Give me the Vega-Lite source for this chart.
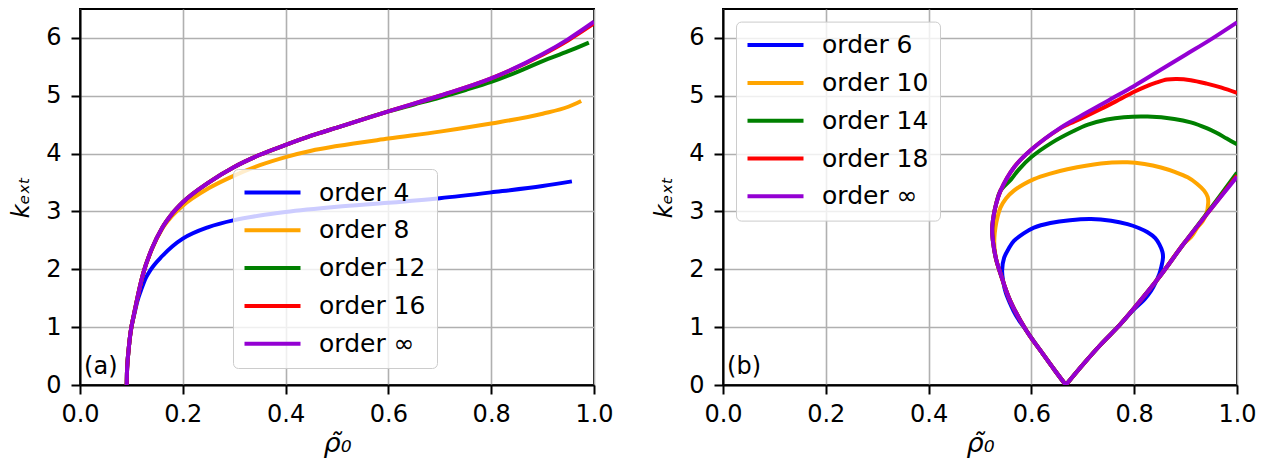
{
  "$schema": "https://vega.github.io/schema/vega-lite/v6.json",
  "padding": {"left": 8, "top": 8, "right": 5, "bottom": 5},
  "background": "white",
  "config": {
    "font": "DejaVu Sans",
    "view": {"stroke": "black", "strokeWidth": 2},
    "axis": {
      "grid": true, "gridColor": "#b0b0b0", "gridWidth": 1.6, "gridOpacity": 1,
      "domainColor": "black", "domainWidth": 2,
      "tickColor": "black", "tickWidth": 2, "tickSize": 9,
      "labelFont": "DejaVu Sans", "labelFontSize": 24, "labelColor": "black", "labelPadding": 8,
      "labelFlush": false, "labelOverlap": false,
      "titleFont": "DejaVu Sans", "titleFontSize": 24, "titleFontWeight": "normal", "titleColor": "black", "titleFontStyle": "italic"
    },
    "axisY": {"labelPadding": 10, "titlePadding": 12},
    "axisX": {"titlePadding": 4, "titleFontSize": 27},
    "legend": {
      "title": null, "orient": "none",
      "symbolType": "M-2.8,0L2.8,0", "symbolSize": 400, "symbolStrokeWidth": 4, "symbolOffset": 16,
      "labelFont": "DejaVu Sans", "labelFontSize": 25, "labelColor": "black", "labelOffset": 34,
      "rowPadding": 11.8, "padding": 11,
      "fillColor": "rgba(255,255,255,0.8)", "strokeColor": "#cccccc", "cornerRadius": 5
    }
  },
  "spacing": 129,
  "bounds": "flush",
  "resolve": {"scale": {"color": "independent"}},
  "datasets": {
    "a": [
      {"s":"order 4","i":0,"r":0.0909,"k":0},{"s":"order 4","i":1,"r":0.0913,"k":0.2},{"s":"order 4","i":2,"r":0.0925,"k":0.4},{"s":"order 4","i":3,"r":0.0945,"k":0.6},{"s":"order 4","i":4,"r":0.0975,"k":0.85},{"s":"order 4","i":5,"r":0.1,"k":1.0},{"s":"order 4","i":6,"r":0.105,"k":1.2},{"s":"order 4","i":7,"r":0.112,"k":1.46},{"s":"order 4","i":8,"r":0.12,"k":1.67},{"s":"order 4","i":9,"r":0.128,"k":1.85},{"s":"order 4","i":10,"r":0.138,"k":2.0},{"s":"order 4","i":11,"r":0.16,"k":2.23},{"s":"order 4","i":12,"r":0.18,"k":2.4},{"s":"order 4","i":13,"r":0.2,"k":2.53},{"s":"order 4","i":14,"r":0.25,"k":2.73},{"s":"order 4","i":15,"r":0.3,"k":2.85},{"s":"order 4","i":16,"r":0.35,"k":2.93},{"s":"order 4","i":17,"r":0.4,"k":2.99},{"s":"order 4","i":18,"r":0.5,"k":3.08},{"s":"order 4","i":19,"r":0.6,"k":3.15},{"s":"order 4","i":20,"r":0.7,"k":3.23},{"s":"order 4","i":21,"r":0.8,"k":3.33},{"s":"order 4","i":22,"r":0.9,"k":3.44},{"s":"order 4","i":23,"r":0.957,"k":3.52},
      {"s":"order 8","i":0,"r":0.0909,"k":0},{"s":"order 8","i":1,"r":0.0913,"k":0.2},{"s":"order 8","i":2,"r":0.0925,"k":0.4},{"s":"order 8","i":3,"r":0.0945,"k":0.6},{"s":"order 8","i":4,"r":0.0975,"k":0.85},{"s":"order 8","i":5,"r":0.1,"k":1.0},{"s":"order 8","i":6,"r":0.105,"k":1.22},{"s":"order 8","i":7,"r":0.112,"k":1.52},{"s":"order 8","i":8,"r":0.123,"k":1.93},{"s":"order 8","i":9,"r":0.14,"k":2.35},{"s":"order 8","i":10,"r":0.16,"k":2.7},{"s":"order 8","i":11,"r":0.18,"k":2.93},{"s":"order 8","i":12,"r":0.2,"k":3.1},{"s":"order 8","i":13,"r":0.25,"k":3.4},{"s":"order 8","i":14,"r":0.3,"k":3.62},{"s":"order 8","i":15,"r":0.35,"k":3.8},{"s":"order 8","i":16,"r":0.4,"k":3.94},{"s":"order 8","i":17,"r":0.45,"k":4.05},{"s":"order 8","i":18,"r":0.5,"k":4.13},{"s":"order 8","i":19,"r":0.6,"k":4.26},{"s":"order 8","i":20,"r":0.7,"k":4.38},{"s":"order 8","i":21,"r":0.8,"k":4.52},{"s":"order 8","i":22,"r":0.9,"k":4.69},{"s":"order 8","i":23,"r":0.95,"k":4.81},{"s":"order 8","i":24,"r":0.975,"k":4.91},
      {"s":"order 12","i":0,"r":0.0909,"k":0},{"s":"order 12","i":1,"r":0.0913,"k":0.2},{"s":"order 12","i":2,"r":0.0925,"k":0.4},{"s":"order 12","i":3,"r":0.0945,"k":0.6},{"s":"order 12","i":4,"r":0.0975,"k":0.85},{"s":"order 12","i":5,"r":0.1,"k":1.0},{"s":"order 12","i":6,"r":0.105,"k":1.22},{"s":"order 12","i":7,"r":0.112,"k":1.52},{"s":"order 12","i":8,"r":0.123,"k":1.93},{"s":"order 12","i":9,"r":0.14,"k":2.36},{"s":"order 12","i":10,"r":0.16,"k":2.72},{"s":"order 12","i":11,"r":0.18,"k":2.97},{"s":"order 12","i":12,"r":0.2,"k":3.16},{"s":"order 12","i":13,"r":0.25,"k":3.5},{"s":"order 12","i":14,"r":0.3,"k":3.77},{"s":"order 12","i":15,"r":0.35,"k":3.98},{"s":"order 12","i":16,"r":0.4,"k":4.15},{"s":"order 12","i":17,"r":0.45,"k":4.31},{"s":"order 12","i":18,"r":0.5,"k":4.45},{"s":"order 12","i":19,"r":0.6,"k":4.73},{"s":"order 12","i":20,"r":0.65,"k":4.85},{"s":"order 12","i":21,"r":0.7,"k":4.97},{"s":"order 12","i":22,"r":0.75,"k":5.1},{"s":"order 12","i":23,"r":0.8,"k":5.24},{"s":"order 12","i":24,"r":0.85,"k":5.41},{"s":"order 12","i":25,"r":0.9,"k":5.6},{"s":"order 12","i":26,"r":0.95,"k":5.77},{"s":"order 12","i":27,"r":0.99,"k":5.92},
      {"s":"order 16","i":0,"r":0.0909,"k":0},{"s":"order 16","i":1,"r":0.0913,"k":0.2},{"s":"order 16","i":2,"r":0.0925,"k":0.4},{"s":"order 16","i":3,"r":0.0945,"k":0.6},{"s":"order 16","i":4,"r":0.0975,"k":0.85},{"s":"order 16","i":5,"r":0.1,"k":1.0},{"s":"order 16","i":6,"r":0.105,"k":1.22},{"s":"order 16","i":7,"r":0.112,"k":1.52},{"s":"order 16","i":8,"r":0.123,"k":1.93},{"s":"order 16","i":9,"r":0.14,"k":2.36},{"s":"order 16","i":10,"r":0.16,"k":2.72},{"s":"order 16","i":11,"r":0.18,"k":2.97},{"s":"order 16","i":12,"r":0.2,"k":3.16},{"s":"order 16","i":13,"r":0.25,"k":3.5},{"s":"order 16","i":14,"r":0.3,"k":3.77},{"s":"order 16","i":15,"r":0.35,"k":3.98},{"s":"order 16","i":16,"r":0.4,"k":4.15},{"s":"order 16","i":17,"r":0.45,"k":4.31},{"s":"order 16","i":18,"r":0.5,"k":4.45},{"s":"order 16","i":19,"r":0.6,"k":4.73},{"s":"order 16","i":20,"r":0.7,"k":5.0},{"s":"order 16","i":21,"r":0.8,"k":5.3},{"s":"order 16","i":22,"r":0.9,"k":5.71},{"s":"order 16","i":23,"r":0.95,"k":5.96},{"s":"order 16","i":24,"r":1.0,"k":6.25},
      {"s":"order ∞","i":0,"r":0.0909,"k":0},{"s":"order ∞","i":1,"r":0.0913,"k":0.2},{"s":"order ∞","i":2,"r":0.0925,"k":0.4},{"s":"order ∞","i":3,"r":0.0945,"k":0.6},{"s":"order ∞","i":4,"r":0.0975,"k":0.85},{"s":"order ∞","i":5,"r":0.1,"k":1.0},{"s":"order ∞","i":6,"r":0.105,"k":1.22},{"s":"order ∞","i":7,"r":0.112,"k":1.52},{"s":"order ∞","i":8,"r":0.123,"k":1.93},{"s":"order ∞","i":9,"r":0.14,"k":2.36},{"s":"order ∞","i":10,"r":0.16,"k":2.72},{"s":"order ∞","i":11,"r":0.18,"k":2.97},{"s":"order ∞","i":12,"r":0.2,"k":3.16},{"s":"order ∞","i":13,"r":0.25,"k":3.5},{"s":"order ∞","i":14,"r":0.3,"k":3.77},{"s":"order ∞","i":15,"r":0.35,"k":3.98},{"s":"order ∞","i":16,"r":0.4,"k":4.15},{"s":"order ∞","i":17,"r":0.45,"k":4.31},{"s":"order ∞","i":18,"r":0.5,"k":4.45},{"s":"order ∞","i":19,"r":0.6,"k":4.73},{"s":"order ∞","i":20,"r":0.7,"k":5.0},{"s":"order ∞","i":21,"r":0.8,"k":5.3},{"s":"order ∞","i":22,"r":0.9,"k":5.72},{"s":"order ∞","i":23,"r":0.95,"k":5.98},{"s":"order ∞","i":24,"r":1.0,"k":6.28}
    ],
    "b": [
      {"s":"order 6","g":0,"i":0,"r":0.667,"k":0},{"s":"order 6","g":0,"i":1,"r":0.645,"k":0.26},{"s":"order 6","g":0,"i":2,"r":0.623,"k":0.53},{"s":"order 6","g":0,"i":3,"r":0.591,"k":0.93},{"s":"order 6","g":0,"i":4,"r":0.57,"k":1.2},{"s":"order 6","g":0,"i":5,"r":0.559,"k":1.4},{"s":"order 6","g":0,"i":6,"r":0.55,"k":1.6},{"s":"order 6","g":0,"i":7,"r":0.545,"k":1.8},{"s":"order 6","g":0,"i":8,"r":0.543,"k":1.98},{"s":"order 6","g":0,"i":9,"r":0.547,"k":2.2},{"s":"order 6","g":0,"i":10,"r":0.556,"k":2.36},{"s":"order 6","g":0,"i":11,"r":0.566,"k":2.49},{"s":"order 6","g":0,"i":12,"r":0.585,"k":2.62},{"s":"order 6","g":0,"i":13,"r":0.605,"k":2.72},{"s":"order 6","g":0,"i":14,"r":0.637,"k":2.8},{"s":"order 6","g":0,"i":15,"r":0.675,"k":2.85},{"s":"order 6","g":0,"i":16,"r":0.716,"k":2.87},{"s":"order 6","g":0,"i":17,"r":0.755,"k":2.84},{"s":"order 6","g":0,"i":18,"r":0.787,"k":2.78},{"s":"order 6","g":0,"i":19,"r":0.81,"k":2.71},{"s":"order 6","g":0,"i":20,"r":0.826,"k":2.64},{"s":"order 6","g":0,"i":21,"r":0.841,"k":2.54},{"s":"order 6","g":0,"i":22,"r":0.849,"k":2.43},{"s":"order 6","g":0,"i":23,"r":0.855,"k":2.3},{"s":"order 6","g":0,"i":24,"r":0.856,"k":2.2},{"s":"order 6","g":0,"i":25,"r":0.853,"k":2.05},{"s":"order 6","g":0,"i":26,"r":0.849,"k":1.92},{"s":"order 6","g":0,"i":27,"r":0.842,"k":1.78},{"s":"order 6","g":0,"i":28,"r":0.833,"k":1.63},{"s":"order 6","g":0,"i":29,"r":0.82,"k":1.48},{"s":"order 6","g":0,"i":30,"r":0.8,"k":1.31},{"s":"order 6","g":0,"i":31,"r":0.77,"k":1.02},{"s":"order 6","g":0,"i":32,"r":0.735,"k":0.7},{"s":"order 6","g":0,"i":33,"r":0.7,"k":0.35},{"s":"order 6","g":0,"i":34,"r":0.667,"k":0},
      {"s":"order 10","g":0,"i":0,"r":0.667,"k":0},{"s":"order 10","g":0,"i":1,"r":0.645,"k":0.26},{"s":"order 10","g":0,"i":2,"r":0.623,"k":0.53},{"s":"order 10","g":0,"i":3,"r":0.591,"k":0.93},{"s":"order 10","g":0,"i":4,"r":0.559,"k":1.45},{"s":"order 10","g":0,"i":5,"r":0.54,"k":1.92},{"s":"order 10","g":0,"i":6,"r":0.532,"k":2.15},{"s":"order 10","g":0,"i":7,"r":0.528,"k":2.4},{"s":"order 10","g":0,"i":8,"r":0.528,"k":2.55},{"s":"order 10","g":0,"i":9,"r":0.53,"k":2.72},{"s":"order 10","g":0,"i":10,"r":0.534,"k":2.9},{"s":"order 10","g":0,"i":11,"r":0.54,"k":3.07},{"s":"order 10","g":0,"i":12,"r":0.551,"k":3.23},{"s":"order 10","g":0,"i":13,"r":0.566,"k":3.36},{"s":"order 10","g":0,"i":14,"r":0.585,"k":3.47},{"s":"order 10","g":0,"i":15,"r":0.605,"k":3.56},{"s":"order 10","g":0,"i":16,"r":0.635,"k":3.65},{"s":"order 10","g":0,"i":17,"r":0.67,"k":3.73},{"s":"order 10","g":0,"i":18,"r":0.735,"k":3.83},{"s":"order 10","g":0,"i":19,"r":0.787,"k":3.85},{"s":"order 10","g":0,"i":20,"r":0.82,"k":3.82},{"s":"order 10","g":0,"i":21,"r":0.852,"k":3.76},{"s":"order 10","g":0,"i":22,"r":0.88,"k":3.68},{"s":"order 10","g":0,"i":23,"r":0.904,"k":3.59},{"s":"order 10","g":0,"i":24,"r":0.922,"k":3.48},{"s":"order 10","g":0,"i":25,"r":0.936,"k":3.36},{"s":"order 10","g":0,"i":26,"r":0.943,"k":3.25},{"s":"order 10","g":0,"i":27,"r":0.944,"k":3.15},{"s":"order 10","g":0,"i":28,"r":0.94,"k":2.95},{"s":"order 10","g":0,"i":29,"r":0.933,"k":2.83},{"s":"order 10","g":0,"i":30,"r":0.923,"k":2.72},{"s":"order 10","g":0,"i":31,"r":0.91,"k":2.55},{"s":"order 10","g":0,"i":32,"r":0.897,"k":2.45},{"s":"order 10","g":0,"i":33,"r":0.85,"k":1.88},{"s":"order 10","g":0,"i":34,"r":0.8,"k":1.33},{"s":"order 10","g":0,"i":35,"r":0.77,"k":1.02},{"s":"order 10","g":0,"i":36,"r":0.735,"k":0.7},{"s":"order 10","g":0,"i":37,"r":0.7,"k":0.35},{"s":"order 10","g":0,"i":38,"r":0.667,"k":0},
      {"s":"order 14","g":0,"i":0,"r":1.0,"k":4.16},{"s":"order 14","g":0,"i":1,"r":0.98,"k":4.26},{"s":"order 14","g":0,"i":2,"r":0.96,"k":4.36},{"s":"order 14","g":0,"i":3,"r":0.941,"k":4.44},{"s":"order 14","g":0,"i":4,"r":0.91,"k":4.54},{"s":"order 14","g":0,"i":5,"r":0.878,"k":4.6},{"s":"order 14","g":0,"i":6,"r":0.826,"k":4.64},{"s":"order 14","g":0,"i":7,"r":0.78,"k":4.63},{"s":"order 14","g":0,"i":8,"r":0.747,"k":4.59},{"s":"order 14","g":0,"i":9,"r":0.71,"k":4.5},{"s":"order 14","g":0,"i":10,"r":0.682,"k":4.39},{"s":"order 14","g":0,"i":11,"r":0.64,"k":4.19},{"s":"order 14","g":0,"i":12,"r":0.6,"k":3.94},{"s":"order 14","g":0,"i":13,"r":0.575,"k":3.72},{"s":"order 14","g":0,"i":14,"r":0.56,"k":3.55},{"s":"order 14","g":0,"i":15,"r":0.54,"k":3.36},{"s":"order 14","g":0,"i":16,"r":0.532,"k":3.15},{"s":"order 14","g":0,"i":17,"r":0.527,"k":2.95},{"s":"order 14","g":0,"i":18,"r":0.524,"k":2.75},{"s":"order 14","g":0,"i":19,"r":0.524,"k":2.6},{"s":"order 14","g":0,"i":20,"r":0.527,"k":2.37},{"s":"order 14","g":0,"i":21,"r":0.532,"k":2.15},{"s":"order 14","g":0,"i":22,"r":0.54,"k":1.92},{"s":"order 14","g":0,"i":23,"r":0.559,"k":1.45},{"s":"order 14","g":0,"i":24,"r":0.591,"k":0.93},{"s":"order 14","g":0,"i":25,"r":0.623,"k":0.53},{"s":"order 14","g":0,"i":26,"r":0.645,"k":0.26},{"s":"order 14","g":0,"i":27,"r":0.667,"k":0},{"s":"order 14","g":1,"i":27,"r":0.667,"k":0},{"s":"order 14","g":1,"i":28,"r":0.7,"k":0.35},{"s":"order 14","g":1,"i":29,"r":0.735,"k":0.7},{"s":"order 14","g":1,"i":30,"r":0.77,"k":1.02},{"s":"order 14","g":1,"i":31,"r":0.8,"k":1.33},{"s":"order 14","g":1,"i":32,"r":0.85,"k":1.88},{"s":"order 14","g":1,"i":33,"r":0.897,"k":2.45},{"s":"order 14","g":1,"i":34,"r":0.95,"k":3.07},{"s":"order 14","g":1,"i":35,"r":1.0,"k":3.67},
      {"s":"order 18","g":0,"i":0,"r":1.0,"k":5.05},{"s":"order 18","g":0,"i":1,"r":0.97,"k":5.14},{"s":"order 18","g":0,"i":2,"r":0.941,"k":5.21},{"s":"order 18","g":0,"i":3,"r":0.91,"k":5.27},{"s":"order 18","g":0,"i":4,"r":0.883,"k":5.29},{"s":"order 18","g":0,"i":5,"r":0.864,"k":5.28},{"s":"order 18","g":0,"i":6,"r":0.844,"k":5.23},{"s":"order 18","g":0,"i":7,"r":0.82,"k":5.15},{"s":"order 18","g":0,"i":8,"r":0.8,"k":5.07},{"s":"order 18","g":0,"i":9,"r":0.77,"k":4.93},{"s":"order 18","g":0,"i":10,"r":0.735,"k":4.77},{"s":"order 18","g":0,"i":11,"r":0.7,"k":4.62},{"s":"order 18","g":0,"i":12,"r":0.67,"k":4.5},{"s":"order 18","g":0,"i":13,"r":0.657,"k":4.44},{"s":"order 18","g":0,"i":14,"r":0.6,"k":4.07},{"s":"order 18","g":0,"i":15,"r":0.566,"k":3.76},{"s":"order 18","g":0,"i":16,"r":0.54,"k":3.36},{"s":"order 18","g":0,"i":17,"r":0.532,"k":3.15},{"s":"order 18","g":0,"i":18,"r":0.527,"k":2.95},{"s":"order 18","g":0,"i":19,"r":0.524,"k":2.75},{"s":"order 18","g":0,"i":20,"r":0.524,"k":2.6},{"s":"order 18","g":0,"i":21,"r":0.527,"k":2.37},{"s":"order 18","g":0,"i":22,"r":0.532,"k":2.15},{"s":"order 18","g":0,"i":23,"r":0.54,"k":1.92},{"s":"order 18","g":0,"i":24,"r":0.559,"k":1.45},{"s":"order 18","g":0,"i":25,"r":0.591,"k":0.93},{"s":"order 18","g":0,"i":26,"r":0.623,"k":0.53},{"s":"order 18","g":0,"i":27,"r":0.645,"k":0.26},{"s":"order 18","g":0,"i":28,"r":0.667,"k":0},{"s":"order 18","g":1,"i":28,"r":0.667,"k":0},{"s":"order 18","g":1,"i":29,"r":0.7,"k":0.35},{"s":"order 18","g":1,"i":30,"r":0.735,"k":0.7},{"s":"order 18","g":1,"i":31,"r":0.77,"k":1.02},{"s":"order 18","g":1,"i":32,"r":0.8,"k":1.33},{"s":"order 18","g":1,"i":33,"r":0.85,"k":1.88},{"s":"order 18","g":1,"i":34,"r":0.897,"k":2.45},{"s":"order 18","g":1,"i":35,"r":0.95,"k":3.05},{"s":"order 18","g":1,"i":36,"r":1.0,"k":3.62},
      {"s":"order ∞","g":0,"i":0,"r":1.0,"k":6.27},{"s":"order ∞","g":0,"i":1,"r":0.95,"k":5.98},{"s":"order ∞","g":0,"i":2,"r":0.9,"k":5.71},{"s":"order ∞","g":0,"i":3,"r":0.85,"k":5.44},{"s":"order ∞","g":0,"i":4,"r":0.8,"k":5.17},{"s":"order ∞","g":0,"i":5,"r":0.75,"k":4.92},{"s":"order ∞","g":0,"i":6,"r":0.7,"k":4.67},{"s":"order ∞","g":0,"i":7,"r":0.657,"k":4.45},{"s":"order ∞","g":0,"i":8,"r":0.6,"k":4.07},{"s":"order ∞","g":0,"i":9,"r":0.566,"k":3.76},{"s":"order ∞","g":0,"i":10,"r":0.54,"k":3.36},{"s":"order ∞","g":0,"i":11,"r":0.532,"k":3.15},{"s":"order ∞","g":0,"i":12,"r":0.527,"k":2.95},{"s":"order ∞","g":0,"i":13,"r":0.524,"k":2.75},{"s":"order ∞","g":0,"i":14,"r":0.524,"k":2.6},{"s":"order ∞","g":0,"i":15,"r":0.527,"k":2.37},{"s":"order ∞","g":0,"i":16,"r":0.532,"k":2.15},{"s":"order ∞","g":0,"i":17,"r":0.54,"k":1.92},{"s":"order ∞","g":0,"i":18,"r":0.559,"k":1.45},{"s":"order ∞","g":0,"i":19,"r":0.591,"k":0.93},{"s":"order ∞","g":0,"i":20,"r":0.623,"k":0.53},{"s":"order ∞","g":0,"i":21,"r":0.645,"k":0.26},{"s":"order ∞","g":0,"i":22,"r":0.667,"k":0},{"s":"order ∞","g":1,"i":22,"r":0.667,"k":0},{"s":"order ∞","g":1,"i":23,"r":0.7,"k":0.35},{"s":"order ∞","g":1,"i":24,"r":0.735,"k":0.7},{"s":"order ∞","g":1,"i":25,"r":0.77,"k":1.02},{"s":"order ∞","g":1,"i":26,"r":0.8,"k":1.33},{"s":"order ∞","g":1,"i":27,"r":0.85,"k":1.88},{"s":"order ∞","g":1,"i":28,"r":0.897,"k":2.45},{"s":"order ∞","g":1,"i":29,"r":0.95,"k":3.05},{"s":"order ∞","g":1,"i":30,"r":1.0,"k":3.6}
    ]
  },
  "hconcat": [
    {
      "width": 514, "height": 376,
      "layer": [
        {
          "data": {"name": "a"},
          "mark": {"type": "line", "strokeWidth": 4, "clip": true, "interpolate": "monotone"},
          "encoding": {
            "x": {"field": "r", "type": "quantitative", "scale": {"domain": [0, 1], "nice": false, "zero": false},
                  "axis": {"title": "ρ̃₀", "values": [0, 0.2, 0.4, 0.6, 0.8, 1.0], "format": ".1f"}},
            "y": {"field": "k", "type": "quantitative", "scale": {"domain": [0, 6.5], "nice": false},
                  "axis": {"title": "kₑₓₜ", "values": [0, 1, 2, 3, 4, 5, 6], "format": "d"}},
            "color": {"field": "s", "type": "nominal",
                      "scale": {"domain": ["order 4", "order 8", "order 12", "order 16", "order ∞"], "range": ["#0000ff", "#ffa500", "#008000", "#ff0000", "#9400d3"]},
                      "legend": {"legendX": 153, "legendY": 160}},
            "order": {"field": "i", "type": "quantitative"}
          }
        },
        {
          "data": {"values": [{"label": "(a)"}]},
          "mark": {"type": "text", "align": "left", "baseline": "alphabetic", "fontSize": 24, "font": "DejaVu Sans", "color": "black"},
          "encoding": {
            "x": {"datum": 0.008, "type": "quantitative"},
            "y": {"datum": 0.19, "type": "quantitative"},
            "text": {"field": "label"}
          }
        }
      ]
    },
    {
      "width": 514, "height": 376,
      "layer": [
        {
          "data": {"name": "b"},
          "mark": {"type": "line", "strokeWidth": 4, "clip": true, "interpolate": "catmull-rom"},
          "encoding": {
            "x": {"field": "r", "type": "quantitative", "scale": {"domain": [0, 1], "nice": false, "zero": false},
                  "axis": {"title": "ρ̃₀", "values": [0, 0.2, 0.4, 0.6, 0.8, 1.0], "format": ".1f"}},
            "y": {"field": "k", "type": "quantitative", "scale": {"domain": [0, 6.5], "nice": false},
                  "axis": {"title": "kₑₓₜ", "values": [0, 1, 2, 3, 4, 5, 6], "format": "d"}},
            "color": {"field": "s", "type": "nominal",
                      "scale": {"domain": ["order 6", "order 10", "order 14", "order 18", "order ∞"], "range": ["#0000ff", "#ffa500", "#008000", "#ff0000", "#9400d3"]},
                      "legend": {"legendX": 13, "legendY": 12.6}},
            "detail": {"field": "g", "type": "nominal"},
            "order": {"field": "i", "type": "quantitative"}
          }
        },
        {
          "data": {"values": [{"label": "(b)"}]},
          "mark": {"type": "text", "align": "left", "baseline": "alphabetic", "fontSize": 24, "font": "DejaVu Sans", "color": "black"},
          "encoding": {
            "x": {"datum": 0.008, "type": "quantitative"},
            "y": {"datum": 0.19, "type": "quantitative"},
            "text": {"field": "label"}
          }
        }
      ]
    }
  ]
}
